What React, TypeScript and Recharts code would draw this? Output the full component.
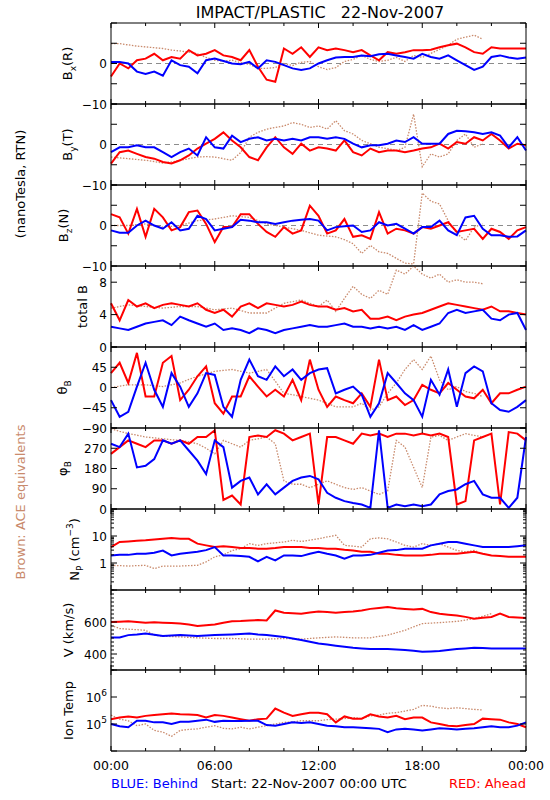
import React from "react";
import { Line, LineChart, ReferenceLine, XAxis, YAxis } from "recharts";

// half-hour samples over the day (hours since 00:00 UTC)
const hours = [
  0, 0.5, 1, 1.5, 2, 2.5, 3, 3.5, 4, 4.5, 5, 5.5, 6, 6.5, 7, 7.5, 8, 8.5, 9, 9.5,
  10, 10.5, 11, 11.5, 12, 12.5, 13, 13.5, 14, 14.5, 15, 15.5, 16, 16.5, 17, 17.5,
  18, 18.5, 19, 19.5, 20, 20.5, 21, 21.5, 22, 22.5, 23, 23.5, 24
];
const hourTicks = [0, 2, 4, 6, 8, 10, 12, 14, 16, 18, 20, 22, 24];
const hourLabels = [0, 6, 12, 18, 24];

// BLUE = STEREO Behind, RED = STEREO Ahead, BROWN = ACE
const bxBlue = [0.4, 0.4, 0, -2, -2.6, -2, -3, 0.8, -0.4, -0.8, -2.4, 0.8, 1.2, 0.6, 0, -0.2, 0.4, -1.2, 0.8, 0.4, -0.4, -1.2, -1.6, -1.2, 0, 0.8, 1.5, 1.6, 1.6, 2, 1.8, 2.3, 2.4, 2, 1.6, 1.2, 2.4, 1.6, 1.2, 2, 0.8, -0.4, -1.6, -0.8, 1.6, 2, 1.5, 1.2, 1.5];
const bxRed = [-3.2, 0, -1.2, 0.8, 1.2, 2.4, 0.8, 1.6, 1.2, 3.3, 2, 2.4, 3.3, 2, 1.6, 0.8, 3.3, -0.8, -4, -4.5, 3.7, 2.4, 4, 1.6, 4, 3.3, 3.7, 3.3, 2.8, 3.3, 2, 0.8, 2.8, 2.4, 2.8, 3.3, 3.3, 3.4, 4, 4.5, 4.9, 4, 2.8, 2.4, 4, 3.7, 3.7, 3.7, 3.7];
const bxAce = [4.9, 4.9, 4.6, 4.3, 4.1, 3.9, 3.7, 3.3, 3.1, 2.8, 2.4, 1.5, 0.8, 0.6, 0.8, 0.2, -0.2, -1.2, -1.2, -1, 0, -0.5, 0.3, 0.5, -0.8, -1.5, -1, 0.5, 1, 2, 1, 0.5, 0.8, 1.5, 0.5, 2, 1.5, 2.5, 3.5, 4.5, 6, 6.5, 7, 6, null, null, null, null, null];

const byBlue = [-1.9, -0.7, -0.7, -0.2, -0.7, -0.7, -1.9, -3.1, -1.9, -1, -2.7, 1.8, -0.7, -1, 2.2, 0.6, 1.4, 1.8, 1, 1.4, 1, 1.4, 1, 1.8, 1.8, 1.4, 1.8, 1.4, 0.2, -0.7, -0.2, -0.2, 0.2, 1, 0.6, 1.8, 0.2, 0.2, 0.2, 2.6, 3.4, 3.3, 3, 2.6, 3, 2.2, -0.7, 1.8, -1.5];
const byRed = [-4.7, -1.9, -1.5, -2.3, -3.1, -3.5, -4.3, -4.7, -3.9, -2.7, -1, 0.2, 1.4, 3, 1, -0.7, -3.1, -3.9, -0.7, 1.8, -0.7, -2.3, 0.2, -1.5, -0.7, -1, -1.5, 1, -1.9, -2.7, -1, -1.9, -1.5, -1.5, -1.9, -1.5, -1, -0.7, 0.2, -1, 0.6, 0.2, 1.8, 1, 2.6, 1, -1, 0.2, -0.2];
const byAce = [-3.1, -3.3, -3.5, -3.7, -3.9, -4.2, -4.6, -4.3, -3.9, -3.5, -3.1, -3, -3.1, -3.5, -3.9, -2, 1.8, 3, 3.8, 4.2, 4.6, 5.4, 5, 4.2, 4.6, 3.8, 5.9, 3.4, 2.6, 1, 0.2, -0.7, -1, -1.5, -0.7, 7.5, -5.5, -2.3, -3.1, -2.3, 1, 2.6, -0.7, 0.2, null, null, null, null, null];

const bzBlue = [-1.2, -1.8, -1.8, 0, 1.2, 0, -0.8, 0.8, -1.2, -0.8, 2.4, 1.6, -1.2, -0.8, -0.4, 1.4, 1.2, 0.8, 0.8, 0.4, 0.8, 1.2, 1.4, 1.6, 1.2, -1.2, -0.4, -0.2, 0, -1.6, -1.2, 0.8, 0, 0.4, -0.8, -2, -0.4, -0.4, 1.2, -1.2, -2.4, 2, 2.4, -0.8, -2.4, -2.4, -2.8, -2.7, -1.2];
const bzRed = [2.8, 2, -2, 4.1, -2.8, 4.1, 2, -1.2, -0.4, 3.3, 3.7, 0.4, -4.1, -0.4, -0.4, 2.8, 2.8, 0.4, -1.6, -2.8, -0.4, -2, -1.2, 4.9, 2.4, -2, -1.2, 1.6, -2.8, -2.4, -3.3, 3.3, -2, -0.8, -1.2, -2, -0.4, -0.8, 0, 0.8, -1.6, -1.2, -0.8, -3.3, -0.8, -1.6, -3.3, -1.2, -0.4];
const bzAce = [0, 0, 0, 0.2, 0.4, 0, -0.4, -0.2, 0, 0.6, 1.2, 1.4, 1.6, 2, 2.4, 2.2, 2, 1.2, 0.4, 0, -0.4, -0.8, -1.2, -1.8, -2.4, -2.6, -2.8, -3.5, -4.5, -6.9, -4.9, -6.5, -6.9, -8.1, -9.3, -9.5, 8, 6, 5.3, 1.2, -2, -3.7, -0.4, 0.4, null, null, null, null, null];

const btBlue = [2.5, 2.3, 2.1, 2.5, 2.9, 3.1, 3.3, 2.7, 3.75, 3.3, 2.9, 2.5, 2.9, 2.1, 2.3, 2.1, 1.7, 2.3, 2.1, 1.7, 2.1, 2.3, 2.5, 2.7, 2.5, 2.5, 2.7, 2.9, 2.5, 2.5, 2.3, 2.5, 2.3, 2.5, 2.1, 2.7, 2.1, 2.5, 2.9, 4.2, 4.6, 4.2, 4.4, 4.6, 3.5, 3.3, 4, 4.2, 2.1];
const btRed = [5.4, 3.3, 5.8, 5, 5.4, 4.8, 5.2, 5.4, 5.2, 5, 5.4, 4.6, 4.2, 4.6, 3.75, 5, 5.4, 4.8, 5.4, 5.2, 5, 5.2, 5.6, 5.2, 5, 5, 4.6, 4.8, 4.4, 4.6, 3.5, 3.5, 3.75, 3.3, 3.75, 4, 4.2, 4.6, 5, 5.4, 5.2, 5, 4.8, 4.6, 5, 4.4, 4.4, 4.2, 4];
const btAce = [4.8, 5, 5.2, 5.1, 5, 4.9, 4.8, 4.9, 5, 5, 5, 4.8, 4.6, 4.7, 4.8, 4.5, 4.2, 4.2, 4.2, 4.8, 5.4, 5.6, 5.8, 5.4, 5, 5.8, 4.4, 6, 7.5, 6.5, 6, 7, 6.5, 9.5, 9, 10, 9, 8.5, 9, 8, 8.3, 8, 8, 7.8, null, null, null, null, null];

const thBlue = [-28, -65, -54, 2, 55, -5, -43, 32, 2, -43, -13, 32, 28, -43, -65, 17, 62, 25, 17, 47, 25, 40, 17, 32, 40, 43, -13, -5, 2, -16, -65, -35, 32, 10, -13, -28, -65, 17, -16, 40, -43, 32, 47, 36, -35, -50, -54, -43, -28];
const thRed = [32, 55, 10, 77, -20, -20, 55, 70, -28, -5, 25, 47, -35, -58, -20, -20, 25, 2, -20, -5, -20, 17, -28, 62, -5, -43, -20, -28, -35, -13, -43, 62, -28, -20, -39, -28, 6, -5, -13, 10, -5, -20, -24, -5, -35, -13, -13, -5, 2];
const thAce = [0, 3, 6, 6, 6, 4, 2, 6, 10, 18, 25, 30, 36, 38, 40, 36, 32, 36, 40, 14, -13, -16, -20, -24, -28, -35, -43, -43, -43, -35, -50, -43, -13, 10, 40, 62, 40, 70, 17, -5, 2, -9, -13, -20, null, null, null, null, null];

const phBlue = [290, 275, 335, 185, 192, 222, 305, 290, 305, 260, 215, 155, 305, 275, 95, 125, 140, 65, 110, 65, 95, 125, 140, 147, 132, 72, 50, 35, 27, 20, 5, 350, 5, 20, 12, 20, 12, 20, 65, 80, 87, 110, 125, 65, 50, 50, 5, 50, 320];
const phRed = [245, 275, 305, 290, 275, 305, 305, 290, 305, 290, 320, 320, 350, 40, 60, 20, 320, 327, 320, 350, 335, 305, 320, 335, 20, 320, 320, 305, 290, 335, 327, 335, 320, 335, 335, 327, 335, 327, 335, 320, 20, 35, 305, 320, 335, 20, 342, 335, 305];
const phAce = [357, 345, 335, 328, 320, 316, 312, 308, 305, 298, 290, 270, 245, 305, 290, 275, 305, 312, 320, 290, 125, 110, 110, 95, 110, 125, 110, 95, 87, 95, 80, 65, 80, 305, 275, 185, 95, 320, 327, 305, 320, 335, 327, 320, null, null, null, null, null];

const npBlue = [1.9, 2.0, 2.0, 2.2, 2.2, 2.4, 2.9, 1.9, 2.2, 2.4, 2.6, 3.0, 3.9, 1.9, 1.9, 1.8, 1.7, 1.15, 1.7, 1.25, 1.9, 1.9, 1.8, 2.2, 2.6, 2.2, 1.9, 1.45, 1.9, 1.9, 2.0, 2.4, 2.9, 3.0, 3.4, 3.4, 3.4, 4.5, 5.2, 6.0, 6.0, 5.2, 4.5, 3.9, 3.9, 3.9, 3.9, 4.2, 4.5];
const npRed = [3.9, 6.0, 6.3, 6.6, 6.9, 7.4, 7.9, 8.4, 7.9, 7.9, 5.2, 4.5, 3.9, 4.2, 3.9, 3.6, 3.6, 3.4, 3.4, 3.6, 3.9, 3.9, 3.9, 3.6, 3.6, 3.4, 3.4, 3.1, 2.9, 2.6, 2.6, 2.2, 2.2, 2.0, 1.9, 1.9, 1.9, 2.0, 2.2, 2.2, 2.2, 2.4, 2.6, 2.2, 1.9, 1.8, 1.7, 1.7, 1.7];
const npAce = [0.82, 0.8, 0.77, 0.8, 0.82, 0.62, 0.77, 0.77, 0.77, 0.8, 0.82, 1.1, 1.7, 2, 2.9, 3.4, 5.2, 4.5, 5.2, 5.6, 6, 6.9, 6.3, 7, 7.9, 9.2, 10.6, 4.5, 4.2, 3.9, 7.9, 8.5, 7.9, 6, 4.5, 3.9, 5.2, 4.5, 5.2, 3.9, 2.9, 2.6, 2.9, 2.2, null, null, null, null, null];

const vBlue = [503, 503, 518, 522, 528, 520, 513, 515, 518, 516, 513, 515, 518, 520, 522, 525, 528, 522, 518, 512, 507, 497, 487, 476, 466, 459, 452, 445, 439, 435, 431, 431, 431, 428, 425, 420, 414, 416, 419, 425, 431, 435, 439, 437, 435, 435, 435, 435, 435];
const vRed = [600, 602, 604, 600, 596, 598, 596, 593, 590, 585, 575, 580, 584, 595, 604, 606, 610, 612, 610, 672, 658, 655, 652, 660, 666, 662, 658, 662, 666, 672, 682, 688, 693, 686, 682, 678, 682, 662, 652, 646, 641, 632, 621, 626, 631, 652, 631, 628, 625];
const vAce = [579, 559, 555, 552, 548, 518, 511, 509, 507, 504, 501, 499, 497, 497, 497, 495, 493, 493, 493, 495, 497, 495, 493, 497, 501, 504, 507, 504, 501, 501, 501, 510, 518, 533, 548, 570, 590, 593, 596, 600, 604, 612, 621, 636, 652, null, null, null, null];

const tBlue = [1.0e5, 8.3e4, 7.6e4, 1.32e5, 1.32e5, 1.15e5, 1.15e5, 1.0e5, 1.2e5, 1.2e5, 1.32e5, 1.45e5, 1.2e5, 1.32e5, 1.29e5, 1.29e5, 1.32e5, 1.32e5, 9.1e4, 8.7e4, 1.0e5, 1.15e5, 1.1e5, 1.15e5, 1.0e5, 8.7e4, 8.3e4, 7.6e4, 7.6e4, 7.2e4, 6.9e4, 6.6e4, 5.0e4, 6.3e4, 6.6e4, 6.3e4, 5.8e4, 6.3e4, 6.9e4, 6.6e4, 6.3e4, 6.6e4, 6.9e4, 7.6e4, 8.3e4, 7.6e4, 7.6e4, 8.7e4, 1.15e5];
const tRed = [1.51e5, 1.74e5, 1.91e5, 1.74e5, 2.0e5, 2.14e5, 2.29e5, 2.45e5, 2.29e5, 2.24e5, 2.14e5, 1.74e5, 2.14e5, 2.0e5, 1.74e5, 1.51e5, 1.32e5, 1.51e5, 1.58e5, 3.72e5, 2.63e5, 2.0e5, 2.29e5, 2.63e5, 2.63e5, 2.29e5, 1.15e5, 1.91e5, 1.58e5, 1.58e5, 2.29e5, 1.91e5, 1.74e5, 2.0e5, 1.51e5, 1.74e5, 1.74e5, 1.15e5, 1.0e5, 8.7e4, 8.3e4, 9.1e4, 1.0e5, 1.58e5, 1.51e5, 1.45e5, 1.15e5, 1.0e5, 7.6e4];
const tAce = [2.14e5, 1.51e5, 1.32e5, 8.7e4, 1.0e5, 5.8e4, 5.0e4, 3.5e4, 5.8e4, 6.3e4, 6.6e4, 7.6e4, 8.7e4, 6.9e4, 6.6e4, 7.6e4, 6.6e4, 7.6e4, 8.7e4, 1.0e5, 1.15e5, 1.2e5, 1.32e5, 1.32e5, 1.32e5, 1.45e5, 1.51e5, 1.58e5, 1.74e5, 1.58e5, 2.0e5, 2.14e5, 2.51e5, 2.63e5, 3.02e5, 3.47e5, 4.9e5, 4.57e5, 3.98e5, 3.72e5, 3.98e5, 3.72e5, 3.47e5, 3.31e5, null, null, null, null, null];

// y tick positions (labelled ones are listed separately per panel)
const npTicks = [0.1, 0.2, 0.3, 0.4, 0.5, 0.6, 0.7, 0.8, 0.9, 1, 2, 3, 4, 5, 6, 7, 8, 9, 10, 20, 30, 40, 50, 60, 70, 80, 90, 100];
const vTicks = [300, 325, 350, 375, 400, 425, 450, 475, 500, 525, 550, 575, 600, 625, 650, 675, 700, 725, 750, 775, 800];

const BLUE = "#0000ff";
const RED = "#ff0000";
const BROWN = "#c98a6c";
const FONT = "DejaVu Sans, sans-serif";

const PLOT_LEFT = 111;
const PLOT_RIGHT = 526;
const PAD = 10;

type Scale = "linear" | "log";

interface Panel {
  id: string;
  top: number;
  height: number;
  blue: (number | null)[];
  red: (number | null)[];
  ace: (number | null)[];
  domain: [number, number];
  scale: Scale;
  ticks: number[];
  majors: number[];
  labels: number[];
  zeroLine?: boolean;
  power?: boolean;
}

const panels: Panel[] = [
  { id: "bx", top: 23, height: 81, blue: bxBlue, red: bxRed, ace: bxAce, domain: [-10, 10], scale: "linear", ticks: [-10, -5, 0, 5, 10], majors: [-10, -5, 0, 5, 10], labels: [0, -10], zeroLine: true },
  { id: "by", top: 104, height: 81, blue: byBlue, red: byRed, ace: byAce, domain: [-10, 10], scale: "linear", ticks: [-10, -5, 0, 5, 10], majors: [-10, -5, 0, 5, 10], labels: [0, -10], zeroLine: true },
  { id: "bz", top: 185, height: 81, blue: bzBlue, red: bzRed, ace: bzAce, domain: [-10, 10], scale: "linear", ticks: [-10, -5, 0, 5, 10], majors: [-10, -5, 0, 5, 10], labels: [0, -10], zeroLine: true },
  { id: "bt", top: 266, height: 81, blue: btBlue, red: btRed, ace: btAce, domain: [0, 10], scale: "linear", ticks: [0, 4, 8], majors: [0, 4, 8], labels: [0, 4, 8] },
  { id: "th", top: 347, height: 81, blue: thBlue, red: thRed, ace: thAce, domain: [-90, 90], scale: "linear", ticks: [-90, -45, 0, 45, 90], majors: [-90, -45, 0, 45, 90], labels: [-90, -45, 0, 45] },
  { id: "ph", top: 428, height: 81, blue: phBlue, red: phRed, ace: phAce, domain: [0, 360], scale: "linear", ticks: [0, 90, 180, 270, 360], majors: [0, 90, 180, 270, 360], labels: [0, 90, 180, 270] },
  { id: "np", top: 509, height: 81, blue: npBlue, red: npRed, ace: npAce, domain: [0.1, 100], scale: "log", ticks: npTicks, majors: [0.1, 1, 10, 100], labels: [1, 10] },
  { id: "v", top: 590, height: 80, blue: vBlue, red: vRed, ace: vAce, domain: [300, 800], scale: "linear", ticks: vTicks, majors: [400, 600], labels: [400, 600] },
  { id: "t", top: 670, height: 81, blue: tBlue, red: tRed, ace: tAce, domain: [1e4, 1e7], scale: "log", ticks: [1e4, 1e5, 1e6, 1e7], majors: [1e4, 1e5, 1e6, 1e7], labels: [1e5, 1e6], power: true }
];

function tickText(panel: Panel, v: number) {
  if (panel.power) {
    return (
      <>
        10
        <tspan dy={-6} fontSize={9}>
          {Math.round(Math.log10(v))}
        </tspan>
      </>
    );
  }
  return v < 0 ? `\u2212${Math.abs(v)}` : `${v}`;
}

function PanelChart({ panel, last }: { panel: Panel; last: boolean }) {
  const rows = hours.map((t, i) => ({
    t,
    blue: panel.blue[i],
    red: panel.red[i],
    ace: panel.ace[i]
  }));
  const padBottom = last ? 30 : PAD;

  const leftTick = (p: any) => {
    const v = p.payload.value as number;
    const len = panel.majors.includes(v) ? 6 : 3;
    return (
      <g>
        <line x1={p.x} x2={p.x + len} y1={p.y} y2={p.y} stroke="#000" strokeWidth={1} />
        {panel.labels.includes(v) ? (
          <text x={p.x - 4} y={p.y} dy={4.5} textAnchor="end" fontSize={12} fontFamily={FONT} fill="#000">
            {tickText(panel, v)}
          </text>
        ) : null}
      </g>
    );
  };

  const rightTick = (p: any) => {
    const v = p.payload.value as number;
    const len = panel.majors.includes(v) ? 6 : 3;
    return <line x1={p.x} x2={p.x - len} y1={p.y} y2={p.y} stroke="#000" strokeWidth={1} />;
  };

  const topTick = (p: any) => {
    const v = p.payload.value as number;
    const len = hourLabels.includes(v) ? 5 : 3;
    return <line x1={p.x} x2={p.x} y1={p.y} y2={p.y + len} stroke="#000" strokeWidth={1} />;
  };

  const bottomTick = (p: any) => {
    const v = p.payload.value as number;
    const major = hourLabels.includes(v);
    const len = major ? 5 : 3;
    return (
      <g>
        <line x1={p.x} x2={p.x} y1={p.y} y2={p.y - len} stroke="#000" strokeWidth={1} />
        {last && major ? (
          <text x={p.x} y={p.y + 19} textAnchor="middle" fontSize={12.5} fontFamily={FONT} fill="#000">
            {`${String(v % 24).padStart(2, "0")}:00`}
          </text>
        ) : null}
      </g>
    );
  };

  const axisLine = { stroke: "#000", strokeWidth: 1 };

  return (
    <div style={{ position: "absolute", left: 0, top: panel.top - PAD }}>
      <LineChart
        width={550}
        height={panel.height + PAD + padBottom}
        data={rows}
        margin={{ top: PAD - 1, right: 550 - PLOT_RIGHT - 1, bottom: padBottom - 1, left: 0 }}
      >
        <XAxis
          dataKey="t"
          type="number"
          domain={[0, 24]}
          ticks={hourTicks}
          orientation="bottom"
          height={1}
          tickSize={0}
          tickMargin={0}
          tickLine={false}
          axisLine={axisLine}
          tick={bottomTick}
          interval={0}
        />
        <XAxis
          xAxisId="top"
          dataKey="t"
          type="number"
          domain={[0, 24]}
          ticks={hourTicks}
          orientation="top"
          height={1}
          tickSize={0}
          tickMargin={0}
          tickLine={false}
          axisLine={axisLine}
          tick={topTick}
          interval={0}
        />
        <YAxis
          type="number"
          scale={panel.scale}
          domain={panel.domain}
          ticks={panel.ticks}
          allowDataOverflow
          width={PLOT_LEFT}
          tickSize={0}
          tickMargin={0}
          tickLine={false}
          axisLine={axisLine}
          tick={leftTick}
          interval={0}
        />
        <YAxis
          yAxisId="right"
          orientation="right"
          type="number"
          scale={panel.scale}
          domain={panel.domain}
          ticks={panel.ticks}
          allowDataOverflow
          width={1}
          tickSize={0}
          tickMargin={0}
          tickLine={false}
          axisLine={axisLine}
          tick={rightTick}
          interval={0}
        />
        {panel.zeroLine ? (
          <ReferenceLine y={0} stroke="#8c8c8c" strokeDasharray="5 4" />
        ) : null}
        <Line
          dataKey="ace"
          stroke={BROWN}
          strokeWidth={1.3}
          strokeDasharray="1.5 1.5"
          dot={false}
          isAnimationActive={false}
          type="linear"
        />
        <Line
          dataKey="red"
          stroke={RED}
          strokeWidth={2}
          dot={false}
          isAnimationActive={false}
          type="linear"
        />
        <Line
          dataKey="blue"
          stroke={BLUE}
          strokeWidth={2}
          dot={false}
          isAnimationActive={false}
          type="linear"
        />
      </LineChart>
    </div>
  );
}

function mid(id: string) {
  const p = panels.find((q) => q.id === id)!;
  return p.top + p.height / 2;
}

function Labels() {
  const t = { fontFamily: FONT, fontSize: 13, fill: "#000" };
  const rot = (x: number, y: number) => `translate(${x},${y}) rotate(-90)`;
  return (
    <svg
      width={550}
      height={800}
      style={{ position: "absolute", left: 0, top: 0, pointerEvents: "none" }}
    >
      <text x={320} y={18} textAnchor="middle" fontFamily={FONT} fontSize={16} fill="#000" style={{ whiteSpace: "pre" }}>
        {"IMPACT/PLASTIC   22-Nov-2007"}
      </text>

      <text transform={rot(72, mid("bx"))} textAnchor="middle" {...t}>
        B<tspan dy={4} fontSize={9}>x</tspan>
        <tspan dy={-4}>(R)</tspan>
      </text>
      <text transform={rot(72, mid("by"))} textAnchor="middle" {...t}>
        B<tspan dy={4} fontSize={9}>y</tspan>
        <tspan dy={-4}>(T)</tspan>
      </text>
      <text transform={rot(68, mid("bz"))} textAnchor="middle" {...t}>
        B<tspan dy={4} fontSize={9}>z</tspan>
        <tspan dy={-4}>(N)</tspan>
      </text>
      <text transform={rot(87, mid("bt"))} textAnchor="middle" {...t}>
        total B
      </text>
      <text transform={rot(67, mid("th"))} textAnchor="middle" {...t}>
        θ<tspan dy={4} fontSize={9}>B</tspan>
      </text>
      <text transform={rot(67, mid("ph"))} textAnchor="middle" {...t}>
        φ<tspan dy={4} fontSize={9}>B</tspan>
      </text>
      <text transform={rot(79, mid("np"))} textAnchor="middle" {...t}>
        N<tspan dy={4} fontSize={9}>P</tspan>
        <tspan dy={-4}> (cm</tspan>
        <tspan dy={-6} fontSize={9}>−3</tspan>
        <tspan dy={6}>)</tspan>
      </text>
      <text transform={rot(73, mid("v"))} textAnchor="middle" {...t}>
        V (km/s)
      </text>
      <text transform={rot(73, mid("t"))} textAnchor="middle" {...t}>
        Ion Temp
      </text>

      <text transform={rot(25, 184)} textAnchor="middle" {...t}>
        (nanoTesla, RTN)
      </text>
      <text transform={rot(25, 502)} textAnchor="middle" {...t} fill={BROWN}>
        Brown: ACE equivalents
      </text>

      <text x={111} y={788} fontFamily={FONT} fontSize={13} fill={BLUE}>
        BLUE: Behind
      </text>
      <text x={211} y={788} fontFamily={FONT} fontSize={13} fill="#000">
        Start: 22-Nov-2007 00:00 UTC
      </text>
      <text x={526} y={788} textAnchor="end" fontFamily={FONT} fontSize={13} fill={RED}>
        RED: Ahead
      </text>
    </svg>
  );
}

export default function App() {
  return (
    <div
      style={{
        position: "absolute",
        left: 0,
        top: 0,
        width: 550,
        height: 800,
        background: "#fff",
        overflow: "hidden"
      }}
    >
      {panels.map((p, i) => (
        <PanelChart key={p.id} panel={p} last={i === panels.length - 1} />
      ))}
      <Labels />
    </div>
  );
}
